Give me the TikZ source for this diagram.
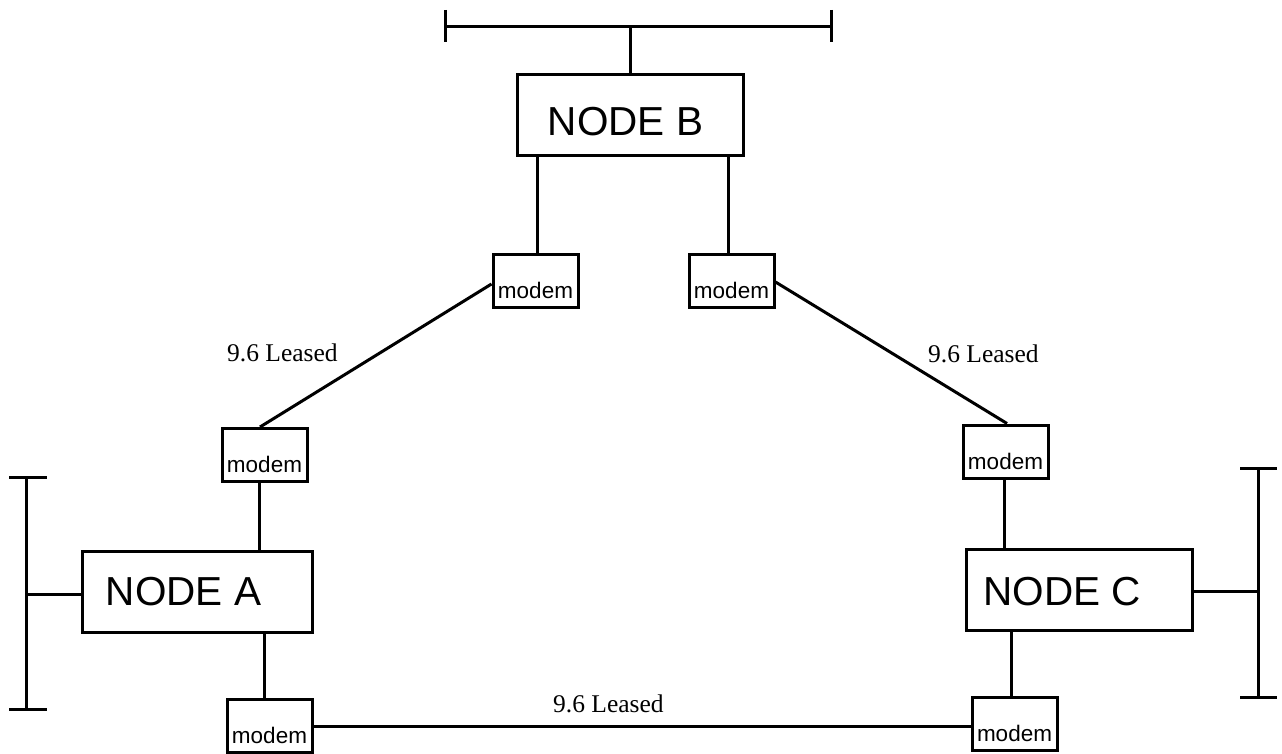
\documentclass[tikz,border=0pt]{standalone}
\usepackage{fontspec}
\setmainfont{Liberation Sans}
\newfontfamily\labelfont{Liberation Serif}
\begin{document}
\begin{tikzpicture}[x=1pt,y=-1pt,
  hostbox/.style={draw,line width=3pt,rectangle,inner sep=0pt,minimum height=81pt,text depth=0pt,
     font=\fontsize{40.5}{42}\selectfont},
  modembox/.style={draw,line width=3pt,rectangle,inner sep=0pt,minimum width=85pt,minimum height=53pt,
     text height=35pt,text depth=0pt,font=\fontsize{22.5}{24}\selectfont},
  linklabel/.style={anchor=base west,inner sep=0pt,font=\labelfont\fontsize{25.5}{27}\selectfont},
  wire/.style={line width=3pt,line cap=butt}]
\useasboundingbox (0,0) rectangle (1282,754);

% hosts
\node[hostbox,minimum width=226pt,text height=41pt] (nB) at (630,115.5) {NODE B\kern9pt};
\node[hostbox,minimum width=230pt,text height=27pt] (nA) at (197,591.5) {NODE A\kern27pt};
\node[hostbox,minimum width=226pt,text height=31pt] (nC) at (1079,589.5) {NODE C\kern33pt};

% modems
\node[modembox] (mB1) at (535.5,280.5) {modem};
\node[modembox] (mB2) at (731.5,280.5) {modem};
\node[modembox] (mA1) at (264.5,455) {modem};
\node[modembox] (mA2) at (269.5,726) {modem};
\node[modembox] (mC1) at (1005.5,451.5) {modem};
\node[modembox] (mC2) at (1014.5,724) {modem};

% buses
\coordinate (bBl) at (445,27); \coordinate (bBr) at (831,27);
\coordinate (bAt) at (26,477); \coordinate (bAb) at (26,709);
\coordinate (bCt) at (1258,468); \coordinate (bCb) at (1258,697);

\draw[wire] (bBl) -- (bBr);
\draw[wire] ([yshift=17pt]bBl) -- ([yshift=-15pt]bBl);
\draw[wire] ([yshift=17pt]bBr) -- ([yshift=-15pt]bBr);
\draw[wire] (nB.north) -- (nB.north |- bBl);

\draw[wire] (bAt) -- (bAb);
\draw[wire] ([xshift=-17pt]bAt) -- ([xshift=21pt]bAt);
\draw[wire] ([xshift=-17pt]bAb) -- ([xshift=21pt]bAb);
\draw[wire] ([yshift=-2.5pt]nA.west) -- ([yshift=-2.5pt]nA.west -| bAt);

\draw[wire] (bCt) -- (bCb);
\draw[wire] ([xshift=-18pt]bCt) -- ([xshift=19pt]bCt);
\draw[wire] ([xshift=-18pt]bCb) -- ([xshift=19pt]bCb);
\draw[wire] ([yshift=-1.5pt]nC.east) -- ([yshift=-1.5pt]nC.east -| bCt);

% stubs host - modem
\draw[wire] ([xshift=1.5pt]mB1.north) -- ([xshift=1.5pt]mB1.north |- nB.south);
\draw[wire] ([xshift=-3.5pt]mB2.north) -- ([xshift=-3.5pt]mB2.north |- nB.south);
\draw[wire] ([xshift=-5.5pt]mA1.south) -- ([xshift=-5.5pt]mA1.south |- nA.north);
\draw[wire] ([xshift=-5.5pt]mA2.north) -- ([xshift=-5.5pt]mA2.north |- nA.south);
\draw[wire] ([xshift=-1.5pt]mC1.south) -- ([xshift=-1.5pt]mC1.south |- nC.north);
\draw[wire] ([xshift=-3.5pt]mC2.north) -- ([xshift=-3.5pt]mC2.north |- nC.south);

% leased lines
\draw[wire] ([yshift=-3.5pt]mB1.west) -- ([xshift=-4.5pt]mA1.north);
\draw[wire] ([yshift=-1.5pt]mB2.east) -- ([xshift=1.5pt]mC1.north);
\draw[wire] (mA2.east) -- (mA2.east -| mC2.west);

% labels
\node[linklabel] (l1) at (227,361) {9.6 Leased};
\node[linklabel] (l2) at (928,362) {9.6 Leased};
\node[linklabel] (l3) at (553,712) {9.6 Leased};
\end{tikzpicture}
\end{document}
